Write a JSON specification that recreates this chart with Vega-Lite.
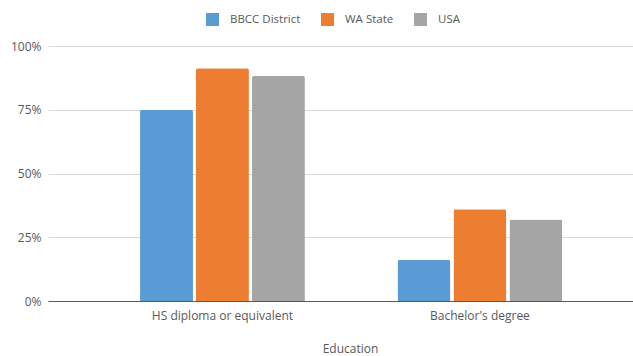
{
  "$schema": "https://vega.github.io/schema/vega-lite/v6.json",
  "width": 585,
  "height": 255,
  "autosize": "none",
  "padding": {"left": 48, "top": 46, "right": 0, "bottom": 55},
  "background": "white",
  "config": {
    "view": {"stroke": null},
    "font": "Open Sans",
    "axis": {"labelFont": "Open Sans", "titleFont": "Open Sans", "labelColor": "#595959", "titleColor": "#595959", "labelFontSize": 12, "titleFontSize": 12, "titleFontWeight": "normal"},
    "legend": {"labelFont": "Open Sans", "labelColor": "#595959", "labelFontSize": 11.5}
  },
  "data": {
    "values": [
      {"education": "HS diploma or equivalent", "region": "BBCC District", "pct": 75},
      {"education": "HS diploma or equivalent", "region": "WA State", "pct": 91.3},
      {"education": "HS diploma or equivalent", "region": "USA", "pct": 88.2},
      {"education": "Bachelor's degree", "region": "BBCC District", "pct": 16.1},
      {"education": "Bachelor's degree", "region": "WA State", "pct": 36},
      {"education": "Bachelor's degree", "region": "USA", "pct": 32}
    ]
  },
  "mark": {"type": "bar", "cornerRadiusTopLeft": 2, "cornerRadiusTopRight": 2},
  "encoding": {
    "x": {
      "field": "education",
      "type": "nominal",
      "sort": ["HS diploma or equivalent", "Bachelor's degree"],
      "scale": {"paddingInner": 0.348, "paddingOuter": 0.31, "align": 0.567},
      "axis": {"title": "Education", "titleX": 302, "labelAngle": 0, "ticks": false, "domainColor": "#595959", "domainWidth": 1, "labelPadding": 9, "titlePadding": 22}
    },
    "xOffset": {
      "field": "region",
      "type": "nominal",
      "sort": ["BBCC District", "WA State", "USA"],
      "scale": {"paddingInner": 0.054, "paddingOuter": 0.027}
    },
    "y": {
      "field": "pct",
      "type": "quantitative",
      "scale": {"domain": [0, 100]},
      "axis": {"title": null, "values": [0, 25, 50, 75, 100], "labelExpr": "datum.value + '%'", "domain": false, "ticks": false, "gridColor": "#D9D9D9", "labelPadding": 7}
    },
    "color": {
      "field": "region",
      "type": "nominal",
      "scale": {"domain": ["BBCC District", "WA State", "USA"], "range": ["#5B9BD5", "#ED7D31", "#A5A5A5"]},
      "legend": {"title": null, "orient": "none", "direction": "horizontal", "legendX": 158, "legendY": -33, "symbolType": "square", "symbolSize": 169, "symbolStrokeWidth": 0, "labelOffset": 11, "columnPadding": 20}
    }
  }
}
